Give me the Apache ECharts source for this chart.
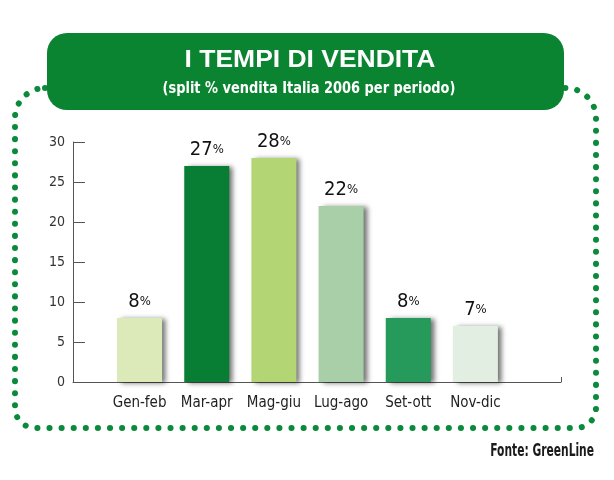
<!DOCTYPE html>
<html>
<head>
<meta charset="utf-8">
<script src="https://cdn.jsdelivr.net/npm/echarts@6/dist/echarts.min.js"></script>
<style>
  html, body { margin: 0; padding: 0; background: #fff; }
  #main { width: 614px; height: 480px; }
</style>
</head>
<body>
<div id="main"></div>
<script>
// dati
var categories = ['Gen-feb', 'Mar-apr', 'Mag-giu', 'Lug-ago', 'Set-ott', 'Nov-dic'];
var values = [8, 27, 28, 22, 8, 7];
var titleText = 'I TEMPI DI VENDITA';
var subText = '(split % vendita Italia 2006 per periodo)';
var sourceText = 'Fonte: GreenLine';

var barColors = ['#dce9b8', '#087d34', '#b3d573', '#a8cfa8', '#259a5a', '#e2eee2'];
var narrow = '"Liberation Sans Narrow", "Arial Narrow", "DejaVu Sans", sans-serif';

var myChart = echarts.init(document.getElementById('main'));

var option = {
    backgroundColor: '#fff',
    animation: false,
    graphic: [
        {   // cornice a puntini
            type: 'rect',
            z: 1,
            shape: { x: 15, y: 88, width: 581, height: 340, r: [30, 30, 20, 20] },
            style: {
                fill: 'none',
                stroke: '#0a8a3a',
                lineWidth: 6,
                lineDash: [0.1, 12],
                lineCap: 'round'
            }
        },
        {
            type: 'rect',
            z: 2,
            shape: { x: 47, y: 33, width: 517, height: 77, r: 20 },
            style: { fill: '#0b8432' }
        },
        {
            type: 'text',
            z: 3,
            x: 310,
            y: 61,
            scaleX: 1.15,
            style: {
                x: 0, y: 0,
                text: titleText,
                fill: '#fff',
                font: 'bold 23px "Liberation Sans", Arial, sans-serif',
                textAlign: 'center',
                textVerticalAlign: 'middle'
            }
        },
        {
            type: 'text',
            z: 3,
            x: 309,
            y: 89,
            scaleX: 0.9,
            style: {
                x: 0, y: 0,
                text: subText,
                fill: '#fff',
                fontSize: 16,
                fontWeight: 'bold condensed',
                fontFamily: narrow,
                textAlign: 'center',
                textVerticalAlign: 'middle'
            }
        },
        {
            type: 'text',
            z: 3,
            x: 594,
            y: 452,
            scaleX: 0.7,
            style: {
                x: 0, y: 0,
                text: sourceText,
                fill: '#1a1a1a',
                fontSize: 17,
                fontWeight: 'bold condensed',
                fontFamily: narrow,
                textAlign: 'right',
                textVerticalAlign: 'middle'
            }
        }
    ],
    grid: [
        { left: 106, right: 105, top: 142, bottom: 98 },
        { left: 73, right: 53, top: 142, bottom: 98 }
    ],
    xAxis: [
        {
            type: 'category',
            gridIndex: 0,
            data: categories,
            axisLine: { show: false },
            axisTick: { show: false },
            axisLabel: {
                interval: 0,
                color: '#222',
                fontSize: 15,
                fontWeight: 'condensed',
                fontFamily: narrow,
                margin: 14
            }
        },
        {
            type: 'value',
            gridIndex: 1,
            min: 0,
            max: 1,
            interval: 1,
            axisLine: { show: true, lineStyle: { color: '#555', width: 1 } },
            axisTick: { show: true, inside: true, length: 5, lineStyle: { color: '#555' } },
            axisLabel: { show: false },
            splitLine: { show: false }
        }
    ],
    yAxis: [
        {
            type: 'value',
            gridIndex: 0,
            min: 0,
            max: 30,
            interval: 5,
            offset: 33,
            axisLine: { show: true, lineStyle: { color: '#555', width: 1 } },
            axisTick: { show: true, inside: true, length: 12, lineStyle: { color: '#555' } },
            axisLabel: {
                color: '#333',
                fontSize: 14,
                fontWeight: 'condensed',
                fontFamily: narrow,
                margin: 8
            },
            splitLine: { show: false }
        },
        {
            type: 'value',
            gridIndex: 1,
            show: false,
            min: 0,
            max: 30
        }
    ],
    series: [
        {
            type: 'bar',
            xAxisIndex: 0,
            yAxisIndex: 0,
            barWidth: 45,
            data: values.map(function (v, i) {
                return {
                    value: v,
                    itemStyle: { color: barColors[i] }
                };
            }),
            itemStyle: {
                shadowColor: 'rgba(0,0,0,0.55)',
                shadowBlur: 5,
                shadowOffsetX: 4,
                shadowOffsetY: 1
            },
            label: {
                show: true,
                position: 'top',
                distance: 6,
                formatter: function (p) { return '{a|' + p.value + '}{b|%}'; },
                rich: {
                    a: { fontSize: 20, color: '#111', fontWeight: 'condensed', fontFamily: narrow },
                    b: { fontSize: 13, color: '#111', fontWeight: 'condensed', fontFamily: narrow }
                }
            }
        }
    ]
};

myChart.setOption(option);
</script>
</body>
</html>
